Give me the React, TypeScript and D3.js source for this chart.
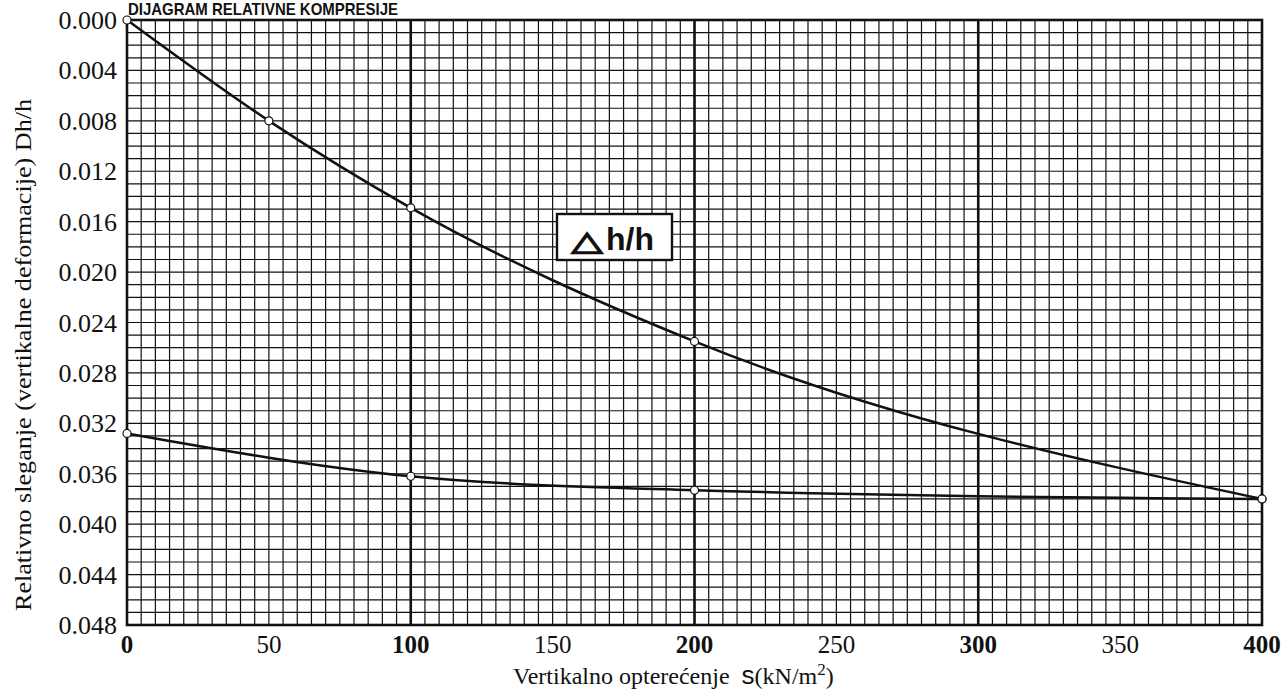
import React from "react";
import * as d3 from "d3";

const loadX = [0, 50, 100, 200, 400];
const loadY = [0, 0.008, 0.0149, 0.0255, 0.038];
const unloadX = [0, 100, 200, 400];
const unloadY = [0.0328, 0.0362, 0.0373, 0.038];
const xTicks = [0, 50, 100, 150, 200, 250, 300, 350, 400];
const boldXTicks = [0, 100, 200, 300, 400];
const heavyLines = [100, 200, 300];
const yTicks = [0, 0.004, 0.008, 0.012, 0.016, 0.02, 0.024, 0.028, 0.032, 0.036, 0.04, 0.044, 0.048];
const title = "DIJAGRAM RELATIVNE KOMPRESIJE";
const yTitle = "Relativno sleganje (vertikalne deformacije) Dh/h";

export default function App() {
  const W = 1284, H = 694;
  const L = 127, R = 1262, T = 20, B = 625;
  const x = d3.scaleLinear().domain([0, 400]).range([L, R]);
  const y = d3.scaleLinear().domain([0, 0.048]).range([T, B]);
  const vGrid = d3.range(0, 401, 5);
  const hGrid = d3.range(0, 49).map((i) => i * 0.001);
  const line = d3
    .line<[number, number]>()
    .x((d) => x(d[0]))
    .y((d) => y(d[1]))
    .curve(d3.curveMonotoneX);
  const loadPts = loadX.map((v, i) => [v, loadY[i]] as [number, number]);
  const unloadPts = unloadX.map((v, i) => [v, unloadY[i]] as [number, number]);
  const serif = "'Liberation Serif', 'Times New Roman', serif";
  const sans = "'Liberation Sans', Arial, sans-serif";
  return (
    <svg width={W} height={H} style={{ position: "absolute", left: 0, top: 0, background: "#fff" }}>
      <rect x={0} y={0} width={W} height={H} fill="#fff" />
      <text
        x={128}
        y={15}
        fontFamily={sans}
        fontWeight="bold"
        fontSize={17}
        textLength={270}
        lengthAdjust="spacingAndGlyphs"
        fill="#111"
      >
        {title}
      </text>
      <g stroke="#111" strokeWidth={1.2}>
        {vGrid.map((v) => (
          <line key={"v" + v} x1={x(v)} x2={x(v)} y1={T} y2={B} />
        ))}
        {hGrid.map((v, i) => (
          <line key={"h" + i} x1={L} x2={R} y1={y(v)} y2={y(v)} />
        ))}
      </g>
      <g stroke="#111" strokeWidth={2.6}>
        {heavyLines.map((v) => (
          <line key={"hv" + v} x1={x(v)} x2={x(v)} y1={T} y2={B} />
        ))}
      </g>
      <rect x={L} y={T} width={R - L} height={B - T} fill="none" stroke="#111" strokeWidth={2.6} />
      <path d={line(loadPts) || ""} fill="none" stroke="#111" strokeWidth={2.5} />
      <path d={line(unloadPts) || ""} fill="none" stroke="#111" strokeWidth={2.5} />
      {[...loadPts, ...unloadPts].map((p, i) => (
        <circle key={"c" + i} cx={x(p[0])} cy={y(p[1])} r={4} fill="#fff" stroke="#111" strokeWidth={1.2} />
      ))}
      <rect x={557} y={214} width={115} height={46} fill="#fff" stroke="#111" strokeWidth={2.4} />
      <text
        transform="translate(587, 250) scale(1.5, 1)"
        textAnchor="middle"
        fontFamily="'DejaVu Sans', sans-serif"
        fontSize={27}
        fill="#111"
        stroke="#111"
        strokeWidth={1.4}
      >
        △
      </text>
      <text x={606} y={250} fontFamily={sans} fontWeight="bold" fontSize={32} fill="#111">
        h/h
      </text>
      {yTicks.map((v) => (
        <text key={"yt" + v} x={117} y={y(v) + 9} textAnchor="end" fontFamily={serif} fontSize={26} fill="#111">
          {v.toFixed(3)}
        </text>
      ))}
      {xTicks.map((v) => (
        <text
          key={"xt" + v}
          x={x(v)}
          y={653}
          textAnchor="middle"
          fontFamily={serif}
          fontSize={25}
          fontWeight={boldXTicks.includes(v) ? "bold" : "normal"}
          fill="#111"
        >
          {v}
        </text>
      ))}
      <text x={513} y={684} fontFamily={serif} fontSize={24} fill="#111">
        Vertikalno opterećenje{"\u00a0\u00a0"}
        <tspan fontFamily={sans} fontSize={26}>s</tspan>
        <tspan>(kN/m</tspan>
        <tspan fontSize={17} dy={-9}>2</tspan>
        <tspan dy={9}>)</tspan>
      </text>
      <text
        transform={`translate(31, 355) rotate(-90)`}
        textAnchor="middle"
        fontFamily={serif}
        fontSize={24}
        textLength={512}
        lengthAdjust="spacingAndGlyphs"
        fill="#111"
      >
        {yTitle}
      </text>
    </svg>
  );
}
